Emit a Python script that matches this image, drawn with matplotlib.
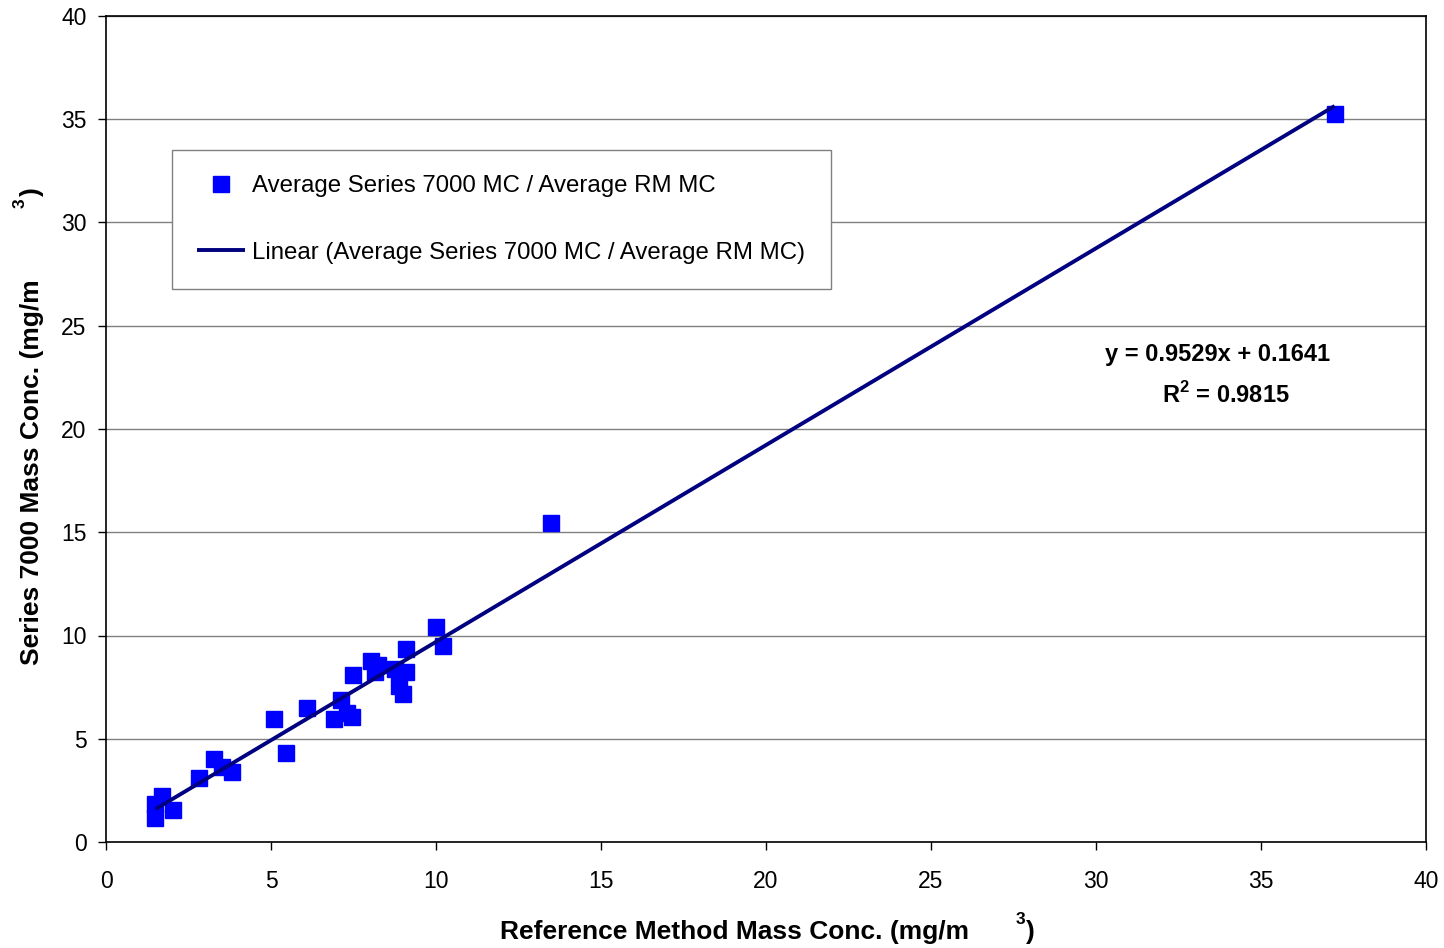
import matplotlib
matplotlib.use("Agg")
import matplotlib.pyplot as plt
import numpy as np

plt.rcParams['font.family'] = ['Liberation Sans', 'DejaVu Sans']
plt.rcParams['mathtext.fontset'] = 'custom'
plt.rcParams['mathtext.bf'] = 'Liberation Sans:bold'
plt.rcParams['mathtext.rm'] = 'Liberation Sans'

ref_mc = [1.49, 1.49, 1.70, 2.03, 2.81, 3.26, 3.52, 3.83, 5.10, 5.45, 6.10,
          6.91, 7.12, 7.30, 7.46, 7.47, 8.02, 8.15, 8.25, 8.76, 8.89, 8.99,
          9.09, 9.09, 10.00, 10.20, 13.47, 37.23]
s7000_mc = [1.85, 1.14, 2.25, 1.53, 3.10, 4.04, 3.63, 3.37, 5.97, 4.30, 6.49,
            5.95, 6.88, 6.25, 6.06, 8.11, 8.78, 8.24, 8.57, 8.40, 7.57, 7.17,
            9.37, 8.24, 10.39, 9.49, 15.46, 35.24]
slope = 0.9529
intercept = 0.1641
r2 = 0.9815
x_ticks = [0, 5, 10, 15, 20, 25, 30, 35, 40]
y_ticks = [0, 5, 10, 15, 20, 25, 30, 35, 40]

W, H = 1444, 948
fig = plt.figure(figsize=(W / 100, H / 100), dpi=100)
ax = fig.add_axes([106 / W, 1 - 842 / H, (1426 - 106) / W, (842 - 16) / H])


def fx(px):
    return px / W


def fy(py):
    return 1 - py / H


ax.set_xlim(0, 40)
ax.set_ylim(0, 40)
ax.set_xticks(x_ticks)
ax.set_yticks(y_ticks)
ax.tick_params(direction='out', length=6, width=1, labelsize=16.5)
ax.tick_params(axis='x', pad=14)
ax.tick_params(axis='y', pad=8)
ax.yaxis.grid(True, color='#808080', linewidth=1)
ax.set_axisbelow(True)
for s in ax.spines.values():
    s.set_color('black')
    s.set_linewidth(1.2)

ax.plot(ref_mc, s7000_mc, linestyle='none', marker='s', markersize=11.5,
        color='#0000FF', markeredgecolor='#0000FF', zorder=3,
        label='Average Series 7000 MC / Average RM MC')
xl = np.array([min(ref_mc), max(ref_mc)])
ax.plot(xl, slope * xl + intercept, color='#000080', linewidth=2.8, zorder=4,
        solid_capstyle='butt',
        label='Linear (Average Series 7000 MC / Average RM MC)')

leg = ax.legend(loc='upper left', bbox_to_anchor=(fx(172), fy(150)),
                bbox_transform=fig.transFigure, fontsize=17.3, frameon=True,
                fancybox=False, framealpha=1, edgecolor='#808080',
                borderpad=1.05, labelspacing=1.85, handlelength=2.0,
                handletextpad=0.3, borderaxespad=0, markerscale=1.0)
leg.get_frame().set_linewidth(1.0)

fig.text(fx(1218), fy(355), 'y = 0.9529x + 0.1641', fontsize=17,
         fontweight='bold', ha='center', va='center')
fig.text(fx(1226), fy(395), r'R$^{\mathbf{2}}$ = 0.9815', fontsize=17,
         fontweight='bold', ha='center', va='center')

# axis labels (with detached superscript like original)
fig.text(fx(735), fy(932), 'Reference Method Mass Conc. (mg/m',
         fontsize=19, fontweight='bold', ha='center', va='center')
fig.text(fx(1020), fy(920), '3', fontsize=12.5, fontweight='bold',
         ha='center', va='center')
fig.text(fx(1030), fy(932), ')', fontsize=19, fontweight='bold',
         ha='center', va='center')

fig.text(fx(32), fy(472), 'Series 7000 Mass Conc. (mg/m', rotation=90,
         fontsize=19, fontweight='bold', ha='center', va='center')
fig.text(fx(20), fy(203), '3', rotation=90, fontsize=12.5,
         fontweight='bold', ha='center', va='center')
fig.text(fx(32), fy(192), ')', rotation=90, fontsize=19,
         fontweight='bold', ha='center', va='center')

fig.savefig('out.png', dpi=100)
